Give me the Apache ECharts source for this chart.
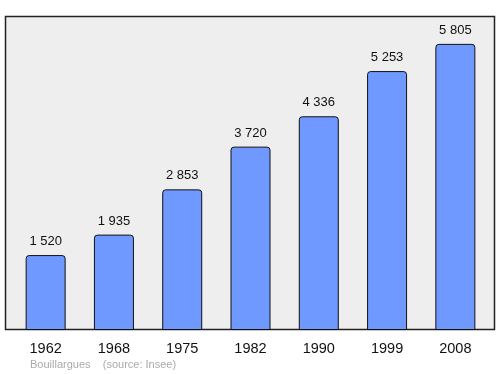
<!DOCTYPE html>
<html><head><meta charset="utf-8">
<script src="https://cdn.jsdelivr.net/npm/echarts@6/dist/echarts.min.js"></script>
<style>html,body{margin:0;padding:0;background:#fff}#c{width:500px;height:374px}</style>
</head><body><div id="c"></div>
<script>
var years = ['1962','1968','1975','1982','1990','1999','2008'];
var population = [1520, 1935, 2853, 3720, 4336, 5253, 5805];
var footer = 'Bouillargues    (source: Insee)';

function fmt(v){ return String(v).replace(/\B(?=(\d{3})+(?!\d))/g, ' '); }

var chart = echarts.init(document.getElementById('c'));
chart.setOption({
  animation: false,
  graphic: [
    {type:'rect', shape:{x:5.5,y:16.5,width:489,height:313}, style:{fill:'#eeeeee', stroke:'#222', lineWidth:1.5}, z:-10},
    {type:'text', left:30, top:359, style:{text:footer, fill:'#aaaaaa', font:'11px "Liberation Sans", Arial, sans-serif'}}
  ],
  grid: {left:11.5, right:10.5, top:17, bottom:44},
  xAxis: {
    type:'category', data:years,
    axisLine:{show:false}, axisTick:{show:false},
    axisLabel:{color:'#111', fontSize:14.5, margin:11, fontFamily:'"Liberation Sans", Arial, sans-serif'}
  },
  yAxis: {type:'value', min:0, max:6350, show:false, splitLine:{show:false}},
  series: [{
    type:'bar', data:population, barWidth:40,
    itemStyle:{color:'#6f99ff', borderColor:'#111', borderWidth:1, borderRadius:[3,3,0,0]},
    label:{show:true, position:'top', distance:7, color:'#111', fontSize:13,
      fontFamily:'"Liberation Sans", Arial, sans-serif',
      formatter:function(p){return fmt(p.value);}}
  }]
});
</script></body></html>
